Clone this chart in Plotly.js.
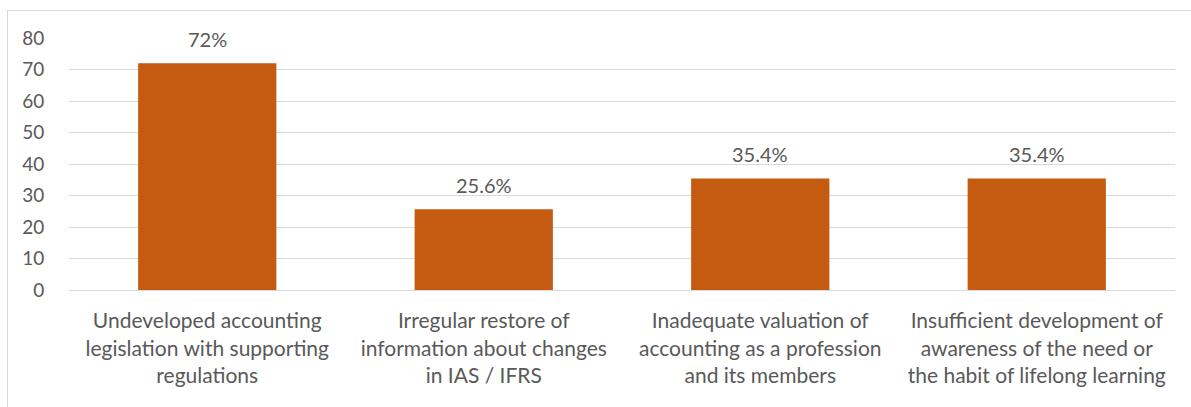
<!DOCTYPE html>
<html>
<head>
<meta charset="utf-8">
<script src="https://cdn.plot.ly/plotly-3.0.1.min.js"></script>
<style>
html,body{margin:0;padding:0;background:#fff;}
#wrap{position:relative;width:1191px;height:407px;overflow:hidden;}
#chart{width:1191px;height:407px;}
#frame{position:absolute;left:7px;top:10px;width:1220px;height:430px;border:1px solid #d9d9d9;pointer-events:none;}
</style>
</head>
<body>
<div id="wrap"><div id="chart"></div><div id="frame"></div></div>
<script>
const categories = [
  "Undeveloped accounting<br>legislation with supporting<br>regulations",
  "Irregular restore of<br>information about changes<br>in IAS / IFRS",
  "Inadequate valuation of<br>accounting as a profession<br>and its members",
  "Insufficient development of<br>awareness of the need or<br>the habit of lifelong learning"
];
const values = [72, 25.6, 35.4, 35.4];
const valueLabels = ["72%", "25.6%", "35.4%", "35.4%"];
const yTicks = [0, 10, 20, 30, 40, 50, 60, 70, 80];

const FONT = "Lato, 'Open Sans', sans-serif";
const TEXT = "#595959";

const trace = {
  type: "bar",
  x: categories,
  y: values,
  marker: {color: "#C55A11"},
  hoverinfo: "none"
};

const annotations = categories.map((c, i) => ({
  x: c, y: values[i], xref: "x", yref: "y",
  text: valueLabels[i], showarrow: false,
  yanchor: "middle", yshift: 24,
  font: {family: FONT, size: 20, color: TEXT}
}));

const layout = {
  width: 1191, height: 407,
  margin: {l: 69, r: 16, t: 38, b: 117},
  paper_bgcolor: "#fff", plot_bgcolor: "#fff",
  bargap: 0.5,
  showlegend: false,
  font: {family: FONT, color: TEXT},
  xaxis: {
    type: "category",
    showgrid: false, showline: false, zeroline: false,
    ticks: "outside", ticklen: 12, tickcolor: "rgba(0,0,0,0)",
    tickfont: {family: FONT, size: 21, color: TEXT}
  },
  yaxis: {
    range: [0, 80], tickvals: yTicks, ticktext: yTicks.map(String),
    showgrid: true, gridcolor: "#d9d9d9", gridwidth: 1,
    zeroline: true, zerolinecolor: "#d9d9d9", zerolinewidth: 1,
    showline: false,
    ticks: "outside", ticklen: 20, tickcolor: "rgba(0,0,0,0)",
    tickfont: {family: FONT, size: 19, color: TEXT}
  },
  annotations: annotations
};

Plotly.newPlot("chart", [trace], layout, {displayModeBar: false, staticPlot: true});
</script>
</body>
</html>
